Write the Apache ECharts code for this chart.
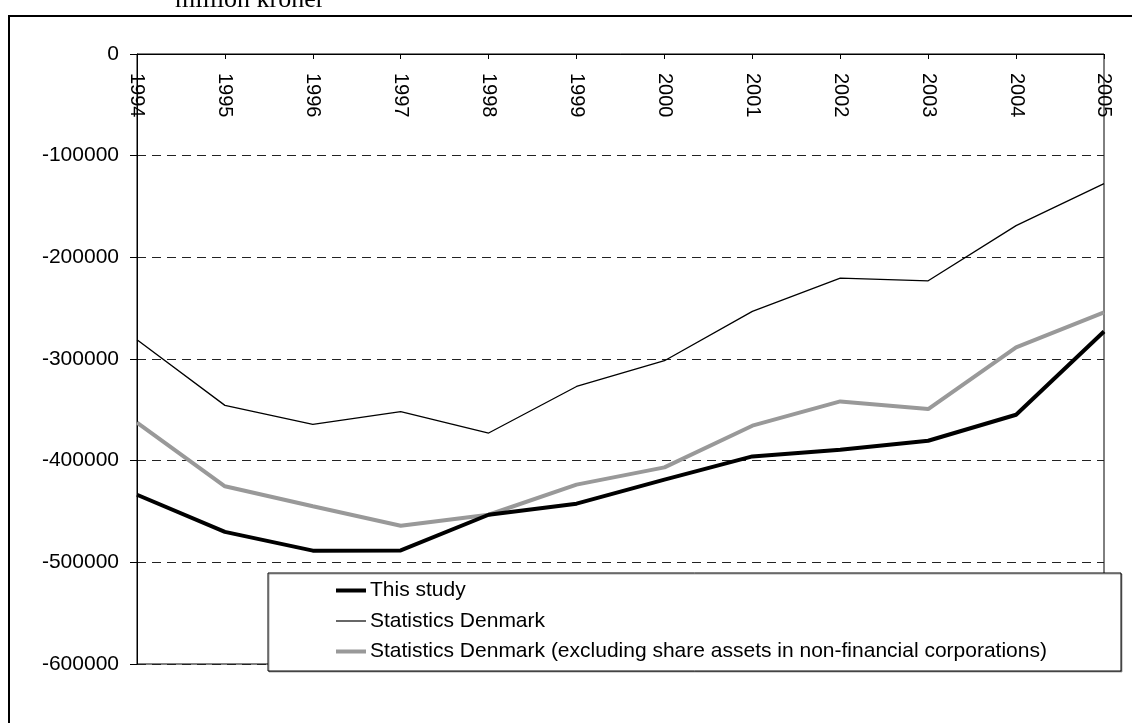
<!DOCTYPE html>
<html>
<head>
<meta charset="utf-8">
<script src="https://cdn.jsdelivr.net/npm/echarts@6/dist/echarts.min.js"></script>
<style>
  html, body { margin: 0; padding: 0; background: #fff; }
  #chart { width: 1132px; height: 723px; }
</style>
</head>
<body>
<div id="chart"></div>
<script>
// values in million kroner
const years = ['1994', '1995', '1996', '1997', '1998', '1999', '2000', '2001', '2002', '2003', '2004', '2005'];
const thisStudy = [-433500, -470000, -488500, -488300, -453200, -442300, -418700, -395800, -389200, -380400, -354800, -272900];
const statDenmark = [-281000, -345600, -364300, -351800, -372800, -327000, -301700, -253200, -220500, -223100, -168800, -127500];
const statDenmarkExcl = [-362700, -425200, -444900, -464000, -453200, -423600, -406600, -365600, -341700, -349200, -288600, -254200];
const seriesNames = [
    'This study',
    'Statistics Denmark',
    'Statistics Denmark (excluding share assets in non-financial corporations)'
];

let myChart = echarts.init(document.getElementById('chart'));
let font = 'Liberation Sans, Arial, sans-serif';
let colors = ['#000', '#000', '#999'];

let option = {
    animation: false,
    backgroundColor: '#fff',
    color: colors,
    textStyle: {
        fontFamily: font,
        color: '#000'
    },
    grid: {
        left: 137,
        right: 28,
        top: 54,
        bottom: 59,
        show: true,
        borderColor: '#000',
        borderWidth: 1
    },
    graphic: [
        {
            // outer frame, right and bottom edges fall outside the page
            type: 'rect',
            shape: { x: 9, y: 16, width: 1200, height: 800 },
            style: { fill: null, stroke: '#000', lineWidth: 2 },
            z: 1
        },
        {
            type: 'text',
            left: 175,
            top: -13,
            style: {
                text: 'million kroner',
                font: '26px "Liberation Serif", "Times New Roman", serif',
                fill: '#000'
            },
            z: 1
        },
        {
            // legend box
            type: 'rect',
            shape: { x: 268, y: 573, width: 853, height: 98 },
            style: {
                fill: '#fff',
                stroke: '#000',
                lineWidth: 1,
                shadowColor: 'rgba(0,0,0,0.35)',
                shadowOffsetX: 1,
                shadowOffsetY: 1
            },
            z: 20
        }
    ],
    legend: {
        orient: 'vertical',
        left: 336,
        top: 580,
        padding: 0,
        itemWidth: 30,
        itemHeight: 21,
        itemGap: 9.5,
        symbolKeepAspect: true,
        z: 30,
        textStyle: {
            fontFamily: font,
            fontSize: 21,
            color: '#000',
            padding: [0, 0, 0, -1]
        },
        data: [
            { name: seriesNames[0], icon: 'path://M0,0H30V4H0Z', itemStyle: { color: '#000' } },
            { name: seriesNames[1], icon: 'path://M0,0H30V1.2H0Z', itemStyle: { color: '#000' } },
            { name: seriesNames[2], icon: 'path://M0,0H30V4H0Z', itemStyle: { color: '#999' } }
        ]
    },
    xAxis: {
        type: 'category',
        data: years,
        position: 'top',
        boundaryGap: false,
        axisLine: {
            lineStyle: { color: '#000', width: 1 }
        },
        axisTick: {
            inside: true,
            length: 5,
            lineStyle: { color: '#000' }
        },
        axisLabel: {
            inside: true,
            rotate: -90,
            margin: 19,
            fontSize: 20,
            color: '#000',
            fontFamily: font
        },
        splitLine: { show: false }
    },
    yAxis: {
        type: 'value',
        min: -600000,
        max: 0,
        interval: 100000,
        axisLine: {
            show: true,
            lineStyle: { color: '#000', width: 1 }
        },
        axisTick: {
            show: true,
            length: 7,
            lineStyle: { color: '#000' }
        },
        axisLabel: {
            margin: 18,
            fontSize: 21,
            color: '#000',
            fontFamily: font,
            formatter: function (v) { return String(v); }
        },
        splitLine: {
            lineStyle: {
                color: '#222',
                type: [9, 6],
                width: 1
            }
        }
    },
    series: [
        {
            name: seriesNames[0],
            type: 'line',
            data: thisStudy,
            symbol: 'none',
            z: 4,
            lineStyle: { color: '#000', width: 4 }
        },
        {
            name: seriesNames[1],
            type: 'line',
            data: statDenmark,
            symbol: 'none',
            z: 3,
            lineStyle: { color: '#000', width: 1.3 }
        },
        {
            name: seriesNames[2],
            type: 'line',
            data: statDenmarkExcl,
            symbol: 'none',
            z: 3,
            lineStyle: { color: '#999', width: 4 }
        }
    ]
};
myChart.setOption(option);
</script>
</body>
</html>
